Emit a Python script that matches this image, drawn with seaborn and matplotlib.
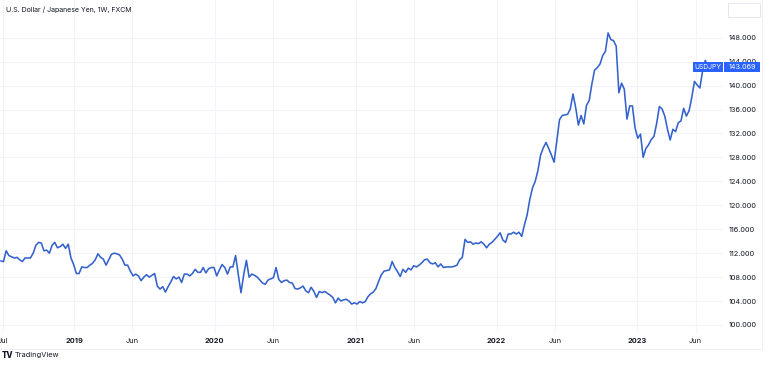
import matplotlib
matplotlib.use("Agg")
import matplotlib.pyplot as plt
import seaborn as sns
import pandas as pd
from matplotlib.patches import Rectangle
from matplotlib.lines import Line2D
from matplotlib import transforms

# ---------------- data ----------------
title = "U.S. Dollar / Japanese Yen, 1W, FXCM"
symbol = "USDJPY"
last_price = 143.069
last_price_label = "143.069"
first_week = "2018-06-25"   # weekly bars (Monday-dated)

usdjpy_close = [
    110.7,
    110.6, 112.4, 111.6, 111.4, 111.2, 111.3, 110.9, 110.6, 111.2, 111.2,
    111.2, 112.0, 113.3, 113.8, 113.7, 112.4, 112.5, 112.0, 113.3, 113.8,
    112.9, 113.1, 113.5, 112.8, 113.5, 111.2, 110.1, 108.6, 108.6, 109.7,
    109.6, 109.6, 110.0, 110.3, 110.9, 111.9, 111.3, 111.0, 110.0, 110.9,
    111.8, 112.0, 111.9, 111.7, 111.0, 110.0, 110.0, 109.0, 108.2, 108.5,
    108.2, 107.4, 108.0, 108.4, 108.0, 108.3, 108.6, 106.5, 106.0, 106.4,
    105.5, 106.4, 107.2, 108.1, 107.7, 108.0, 107.1, 108.5, 108.5, 108.2,
    108.6, 109.3, 108.8, 108.8, 109.6, 108.7, 109.4, 109.6, 109.6, 108.2,
    109.2, 110.1, 109.6, 108.5, 109.7, 109.7, 111.6, 108.4, 105.4, 108.4,
    110.8, 108.0, 108.5, 108.3, 108.0, 107.5, 107.0, 106.8, 107.5, 107.7,
    107.9, 109.6, 107.6, 107.1, 107.4, 107.5, 107.1, 107.0, 106.1, 106.0,
    106.2, 106.5, 105.7, 105.4, 106.3, 105.6, 104.6, 105.6, 105.4, 105.6,
    105.3, 105.0, 104.6, 103.7, 104.5, 104.0, 104.2, 104.3, 104.0, 103.5,
    103.7, 103.5, 103.9, 103.7, 103.9, 104.7, 105.2, 105.5, 106.1, 107.3,
    108.4, 109.0, 109.1, 109.2, 110.6, 109.6, 108.9, 108.1, 109.3, 108.8,
    109.5, 109.2, 109.9, 109.7, 110.0, 110.4, 110.9, 111.0, 110.4, 110.2,
    110.4, 109.7, 110.2, 109.6, 109.7, 109.7, 109.7, 109.8, 110.0, 110.9,
    111.3, 114.3, 113.8, 113.9, 113.5, 113.7, 113.6, 113.9, 113.5, 112.9,
    113.5, 113.8, 114.3, 114.8, 115.4, 114.2, 113.8, 115.2, 115.2, 115.5,
    115.2, 115.5, 114.8, 116.7, 118.4, 121.0, 122.9, 124.0, 125.8, 128.4,
    129.6, 130.5, 129.5, 128.4, 127.2, 130.7, 134.3, 135.0, 135.1, 135.2,
    136.1, 138.6, 136.3, 133.4, 135.0, 133.6, 136.7, 137.5, 140.3, 142.6,
    143.0, 143.6, 145.0, 145.7, 148.8, 147.7, 147.5, 146.6, 138.8, 140.4,
    139.4, 134.4, 136.6, 136.6, 132.9, 131.2, 131.9, 128.0, 129.5, 130.1,
    131.0, 131.5, 133.7, 136.5, 136.1, 134.9, 132.7, 130.9, 132.7, 132.3,
    133.8, 134.1, 136.2, 134.9, 135.8, 138.0, 140.7, 140.1, 139.6, 142.4,
    144.2, 143.1,
]

y_ticks = [100, 104, 108, 112, 116, 120, 124, 128, 132, 136, 140, 144, 148]
x_tick_dates = ["2018-07-01", "2019-01-01", "2019-06-01", "2020-01-01", "2020-06-01",
                "2021-01-01", "2021-06-01", "2022-01-01", "2022-06-01", "2023-01-01",
                "2023-06-01"]
x_tick_labels = ["Jul", "2019", "Jun", "2020", "Jun", "2021", "Jun", "2022", "Jun",
                 "2023", "Jun"]
bold_labels = {"2019", "2020", "2021", "2022", "2023"}
brand = "TradingView"

# ---------------- figure ----------------
sns.set_theme(style="white")
plt.rcParams["font.family"] = ["Inter", "DejaVu Sans"]

W, H = 768, 368
LINE = "#3462cc"
TXT = "#131722"
GRID = "#f2f4f9"
BLUE = "#2962ff"

df = pd.DataFrame({
    "date": pd.date_range(first_week, periods=len(usdjpy_close), freq="W-MON"),
    "close": usdjpy_close,
})

fig = plt.figure(figsize=(W / 100, H / 100), dpi=100)
fig.patch.set_facecolor("white")
ax = fig.add_axes([0, 35 / H, 723 / W, 333 / H])
ax.set_facecolor("white")

sns.lineplot(data=df, x="date", y="close", ax=ax, color=LINE, linewidth=1.15,
             zorder=3)

ax.set_xlim(pd.Timestamp("2018-06-23"), pd.Timestamp("2023-08-11"))
ax.set_ylim(98.66, 154.3)
ax.set_xlabel("")
ax.set_ylabel("")
for s in ax.spines.values():
    s.set_visible(False)

ax.set_yticks(y_ticks)
ax.set_yticklabels([f"{v:.3f}" for v in y_ticks])
ax.yaxis.tick_right()
ax.tick_params(axis="y", length=0, pad=4.3, labelsize=5.3, labelcolor=TXT)

ax.set_xticks(pd.to_datetime(x_tick_dates))
ax.set_xticklabels(x_tick_labels)
ax.tick_params(axis="x", length=0, pad=3.4, labelsize=5.3, labelcolor=TXT)
for lab in ax.get_xticklabels():
    if lab.get_text() in bold_labels:
        lab.set_fontweight("bold")

ax.grid(True, color=GRID, linewidth=0.8)
ax.set_axisbelow(True)

# title
fig.text(6 / W, 1 - 10 / H, title, fontsize=5.0, color=TXT, va="center", ha="left")

# top-right empty box
fig.add_artist(Rectangle((727.5 / W, 1 - 16.7 / H), 32.5 / W, 14 / H,
                         transform=fig.transFigure, fill=False,
                         edgecolor="#e0e3eb", linewidth=0.6))

# frame lines
fig.add_artist(Line2D([762 / W, 762 / W], [1 - 349 / H, 1], transform=fig.transFigure,
                      color="#eceef2", linewidth=0.6))
fig.add_artist(Line2D([0, 762 / W], [1 - 349 / H, 1 - 349 / H], transform=fig.transFigure,
                      color="#eceef2", linewidth=0.6))

# last price labels
tr = transforms.blended_transform_factory(fig.transFigure, ax.transData)
hh = 9.5 / 5.985
fig.add_artist(Rectangle((693 / W, last_price - hh / 2), 30 / W, hh, transform=tr,
                         facecolor=BLUE, edgecolor="none", zorder=5))
fig.add_artist(Rectangle((724 / W, last_price - hh / 2), 36 / W, hh, transform=tr,
                         facecolor=BLUE, edgecolor="none", zorder=5))
fig.text(708 / W, last_price, symbol, transform=tr, fontsize=4.8, color="white",
         ha="center", va="center", zorder=6)
fig.text(742 / W, last_price, last_price_label, transform=tr, fontsize=5.2,
         color="white", ha="center", va="center", zorder=6)

# brand
fig.text(2 / W, 1 - 355.5 / H, "TV", fontsize=5.8, fontweight="heavy", color=TXT,
         va="center", ha="left")
fig.text(15 / W, 1 - 355.5 / H, brand, fontsize=5.3, color=TXT, va="center", ha="left")

fig.savefig("out.png", dpi=100, facecolor="white")
